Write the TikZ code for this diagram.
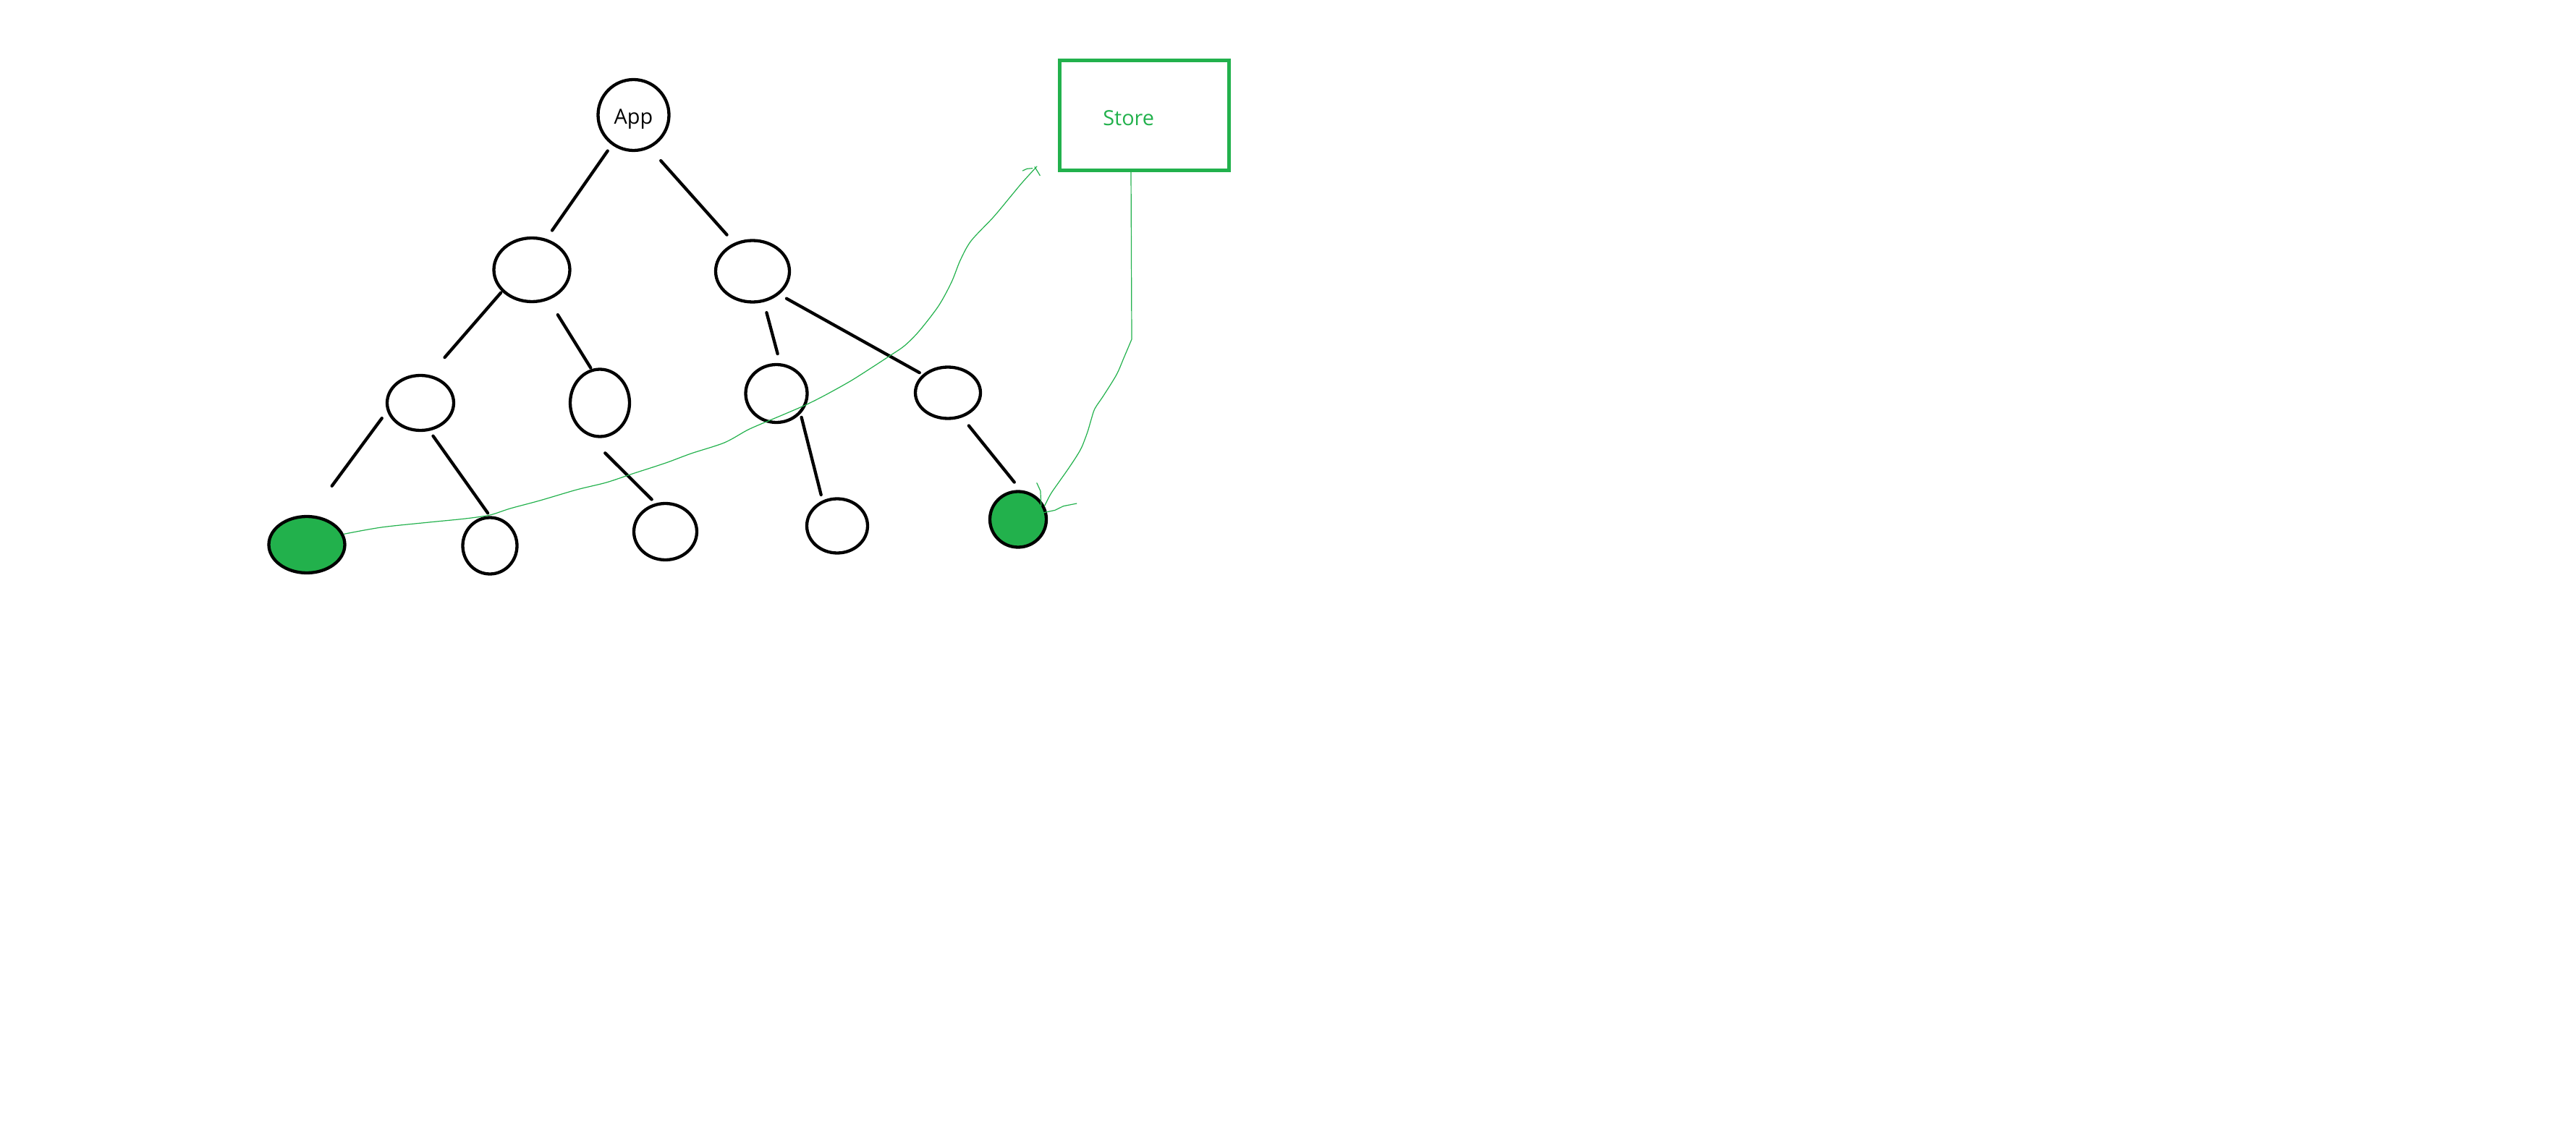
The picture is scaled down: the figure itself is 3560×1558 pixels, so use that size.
\documentclass[tikz,border=0pt]{standalone}
\usepackage{fontspec}
\setmainfont{Open Sans}
\usetikzlibrary{shapes.geometric}
\definecolor{pgreen}{HTML}{22B14C}
\newdimen\pxd \pxd=0.01cm
\begin{document}
\begin{tikzpicture}[x=0.01cm,y=-0.01cm,
  tnode/.style={draw=black, line width=0.043cm, ellipse, inner sep=0pt},
  gnode/.style={tnode, fill=pgreen},
  tedge/.style={draw=black, line width=0.043cm, line cap=round},
  gthin/.style={draw=pgreen, line width=0.012cm, line cap=round, line join=round},
  lbl/.style={font=\fontsize{8.2pt}{10pt}\selectfont, inner sep=0pt}]
\useasboundingbox (0,0) rectangle (3560,1558);
% tree nodes
\node[tnode, circle, minimum size=98\pxd, lbl, text height=7.23pt, text depth=0pt] (App) at (875.5,159) {App};
\node[tnode, minimum width=105\pxd, minimum height=88\pxd] (L2L) at (735,373) {};
\node[tnode, minimum width=102\pxd, minimum height=85\pxd] (L2R) at (1040,375) {};
\node[tnode, minimum width=92\pxd, minimum height=76\pxd] (L3a) at (581,557) {};
\node[tnode, minimum width=82\pxd, minimum height=93\pxd] (L3b) at (829,557) {};
\node[tnode, minimum width=85\pxd, minimum height=80\pxd] (L3c) at (1073,544) {};
\node[tnode, minimum width=90\pxd, minimum height=71\pxd] (L3d) at (1310,543) {};
\node[gnode, minimum width=105\pxd, minimum height=78\pxd] (L4a) at (424,753) {};
\node[tnode, minimum width=75\pxd, minimum height=78\pxd] (L4b) at (677,754.5) {};
\node[tnode, minimum width=87\pxd, minimum height=78\pxd] (L4c) at (919.5,735) {};
\node[tnode, minimum width=84\pxd, minimum height=75\pxd] (L4d) at (1157,727) {};
\node[gnode, minimum width=78\pxd, minimum height=77\pxd] (L4e) at (1407,718) {};
% store
\node[draw=pgreen, line width=0.05cm, minimum width=234\pxd, minimum height=152\pxd, inner sep=0pt] (Store) at (1581.5,159.5) {};
\node[lbl, text=pgreen, anchor=base] (StoreLbl) at (1559.7,173.3) {Store};
% tree edges
\draw[tedge, shorten <=10\pxd, shorten >=14\pxd] (App.234) -- (L2L.65);
\draw[tedge, shorten <=23\pxd, shorten >=15\pxd] (App.296) -- (L2R.123);
\draw[tedge, shorten <=2\pxd, shorten >=32\pxd] (L2L.216) -- (L3a.72);
\draw[tedge, shorten <=24\pxd, shorten >=2\pxd] (L2L.299) -- (L3b.104);
\draw[tedge, shorten <=15\pxd, shorten >=13.5\pxd] (L2R.290) -- (L3c.83);
\draw[tedge, shorten <=11.5\pxd, shorten >=5\pxd] (L2R.319) -- (L3d.144);
\draw[tedge, shorten <=12\pxd, shorten >=50\pxd] (L3a.194) -- (L4a.83);
\draw[tedge, shorten <=8.5\pxd, shorten >=5\pxd] (L3a.288) -- (L4b.90);
\draw[tedge, shorten <=35.5\pxd, shorten >=7.5\pxd] (L3b.248) -- (L4c.109);
\draw[tedge, shorten <=5\pxd, shorten >=8\pxd] (L3c.320) -- (L4d.120);
\draw[tedge, shorten <=14.5\pxd, shorten >=14\pxd] (L3d.300) -- (L4e.85);
% green hand-drawn connectors
\coordinate (c1e) at (1433,230);
\draw[gthin] plot[smooth, tension=0.5] coordinates {(L4a.16) (527,729) (593,722) (643,717) (677,712) (705,703) (746,692) (797,677) (838,667) (874,655) (920,640) (955,627) (1001,612) (1032,595) (1052,586) (1083,573) (1113,560) (1139,547) (1175,527) (1205,508) (1231,491) (1250,478) (1270,458) (1297,423) (1315,390) (1327,360) (1342,333) (1373,300) (1398,270) (1413,252) (c1e)};
\draw[gthin] ([shift={(-19.7,6)}]c1e) -- ([shift={(-13.7,3.3)}]c1e) -- ([shift={(-6.3,2.7)}]c1e);
\draw[gthin] ([shift={(-3,0.7)}]c1e) -- ([shift={(4.3,12.7)}]c1e);
\coordinate (c2s) at ([xshift=-18.5\pxd]Store.south);
\coordinate (c2k) at (1564,469);
\coordinate (c2e) at (L4e.27);
\draw[gthin] (c2s) -- (c2k) -- plot[smooth, tension=0.5] coordinates {(c2k) (1553,495) (1543,518) (1525,547) (1513,565) (1508,580) (1503,597) (1495,618) (1487,632) (1475,650) (1463,667) (1452,683) (c2e)};
\draw[gthin] ([shift={(-10.7,-31.7)}]c2e) -- ([shift={(-5.7,-20.7)}]c2e) -- ([shift={(-4.7,0.3)}]c2e);
\draw[gthin] ([shift={(-1.3,9.3)}]c2e) -- ([shift={(14.3,6)}]c2e) -- ([shift={(26,0.3)}]c2e) -- ([shift={(44.3,-3.3)}]c2e);
\end{tikzpicture}
\end{document}
